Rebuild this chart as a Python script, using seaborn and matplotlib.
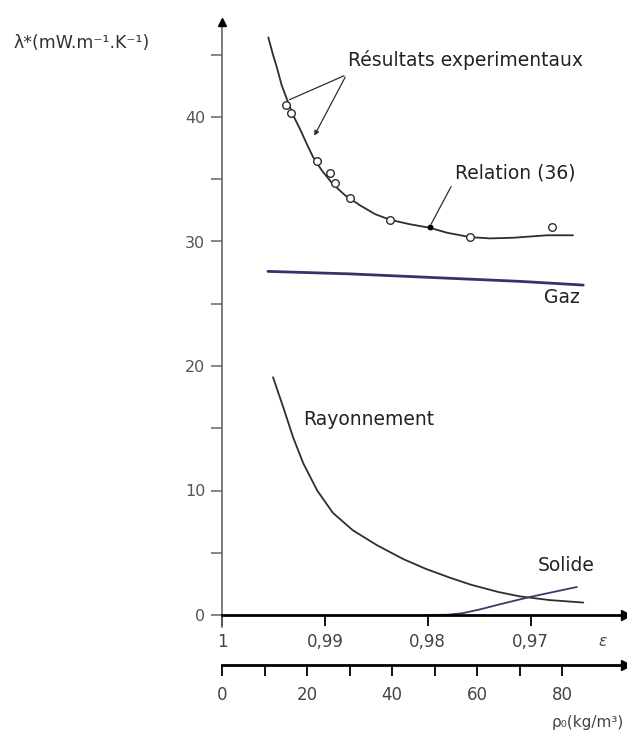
import numpy as np
import pandas as pd
import matplotlib
matplotlib.use("Agg")
import matplotlib.pyplot as plt
import seaborn as sns

# curves (rho in kg/m3, lambda in mW/m/K)
rho_total = [10.9, 12.0, 12.9, 14.0, 15.3, 16.8, 18.4, 20.0, 21.4, 23.5, 26.1, 29.0,
             32.5, 36.0, 39.5, 44.0, 48.9, 53.0, 58.4, 63.0, 68.5, 76.5, 82.6]
lam_total = [46.4, 45.0, 44.0, 42.6, 41.4, 40.1, 39.0, 37.8, 36.8, 35.7, 34.6, 33.7,
             32.9, 32.2, 31.75, 31.4, 31.1, 30.7, 30.35, 30.25, 30.3, 30.5, 30.5]

rho_gaz = [10.8, 30.0, 50.0, 70.0, 85.0]
lam_gaz = [27.6, 27.4, 27.1, 26.8, 26.5]

rho_ray = [12.0, 14.4, 16.7, 19.1, 22.4, 26.1, 30.8, 36.5, 42.6, 48.0, 53.6,
           58.4, 65.0, 70.0, 77.0, 85.0]
lam_ray = [19.1, 16.7, 14.3, 12.2, 10.0, 8.2, 6.8, 5.6, 4.5, 3.7, 3.0,
           2.45, 1.85, 1.5, 1.2, 1.0]

rho_sol = [48.0, 53.0, 56.7, 60.7, 64.7, 68.5, 72.5, 78.0, 83.5]
lam_sol = [0.0, 0.02, 0.15, 0.45, 0.8, 1.12, 1.45, 1.85, 2.25]

rho_exp = [15.1, 16.2, 22.4, 25.4, 26.6, 30.1, 39.5, 58.4, 77.6]
lam_exp = [41.0, 40.3, 36.5, 35.5, 34.7, 33.5, 31.7, 30.4, 31.2]

rho_rel = [48.9]
lam_rel = [31.2]

eps_ticks = [1.0, 0.99, 0.98, 0.97]
eps_labels = ["1", "0,99", "0,98", "0,97"]
rho_solid = 2420.0  # eps = 1 - rho/rho_solid
rho_ticks = [0, 20, 40, 60, 80]
lam_ticks = [0, 10, 20, 30, 40]

sns.set_theme(style="white")
plt.rcParams['font.family'] = ['DejaVu Sans']

W, H = 627, 734
fig = plt.figure(figsize=(W / 100, H / 100), dpi=100)

# pixel layout: rho 0 at x=222, 4.25 px per unit; lambda 0 at y=615, 12.45 px per unit
x0, xs = 222.0, 4.25
y0, ys = 615.0, 12.45
xmax = (626 - x0) / xs
ymin, ymax = -1.0, (y0 - 22) / ys
ax = fig.add_axes([x0 / W, (H - (y0 - ymin * ys)) / H,
                   (626 - x0) / W, ((ymax - ymin) * ys) / H])
ax.set_xlim(0, xmax)
ax.set_ylim(ymin, ymax)
ax.patch.set_alpha(0)

dark = "#2e2e2e"
gaz_col = "#34346a"

def line(x, y, **kw):
    sns.lineplot(x=x, y=y, ax=ax, legend=False, estimator=None, **kw)

line(rho_total, lam_total, color=dark, lw=1.3)
line(rho_gaz, lam_gaz, color=gaz_col, lw=2.0)
line(rho_ray, lam_ray, color=dark, lw=1.3)
line(rho_sol, lam_sol, color="#3a3a70", lw=1.3)

sns.scatterplot(x=rho_exp, y=lam_exp, ax=ax, marker="o", s=30,
                facecolor="white", edgecolor=dark, linewidth=1.0, zorder=5)
sns.scatterplot(x=rho_rel, y=lam_rel, ax=ax, marker="o", s=18,
                color="black", linewidth=0, zorder=6)

# spines
for s in ["top", "right"]:
    ax.spines[s].set_visible(False)
ax.spines["left"].set_position(("data", 0))
ax.spines["left"].set_color("#666666")
ax.spines["left"].set_linewidth(1.2)
ax.spines["bottom"].set_position(("data", 0))
ax.spines["bottom"].set_color("black")
ax.spines["bottom"].set_linewidth(2.0)

ax.set_yticks(lam_ticks)
ax.set_yticklabels([str(v) for v in lam_ticks])
ax.set_yticks([5, 15, 25, 35, 45], minor=True)
ax.tick_params(axis="y", which="both", direction="out", length=8, width=1.1,
               color="#666666", left=True, labelsize=11.5, labelcolor="#555555", pad=4)

eps_pos = [(1 - e) * rho_solid for e in eps_ticks]
ax.set_xticks(eps_pos)
ax.set_xticklabels(eps_labels)
ax.tick_params(axis="x", which="major", direction="out", length=8, width=1.3,
               color="black", bottom=True, labelsize=12, labelcolor="#444444", pad=5)

# axis arrows
ax.plot([0], [ymax], marker="^", ms=6, color="black", clip_on=False, zorder=7)
ax.plot([1], [0], marker=">", ms=7, color="black", clip_on=False, zorder=7,
        transform=ax.get_yaxis_transform())
ax.text(603, H - 642, "ε", transform=None, fontsize=11, color="#444444",
        ha="center", va="center", style="italic")

# lower density axis
yb = 665.0
ax2 = fig.add_axes([x0 / W, (H - yb) / H, (626 - x0) / W, 0.001])
ax2.set_xlim(0, xmax)
ax2.patch.set_alpha(0)
for s in ["top", "right", "left"]:
    ax2.spines[s].set_visible(False)
ax2.spines["bottom"].set_color("black")
ax2.spines["bottom"].set_linewidth(2.0)
ax2.set_yticks([])
ax2.set_xticks(rho_ticks)
ax2.set_xticklabels([str(v) for v in rho_ticks])
ax2.set_xticks([10, 30, 50, 70], minor=True)
ax2.tick_params(axis="x", which="both", direction="out", length=8, width=1.3,
                color="black", bottom=True, labelsize=12, labelcolor="#444444", pad=7)
ax2.plot([1], [0], marker=">", ms=7, color="black", clip_on=False,
         transform=ax2.get_yaxis_transform())
fig.text(588 / W, 1 - 722 / H, "ρ₀(kg/m³)", fontsize=11, color="#444444",
         ha="center", va="center")

# y label
fig.text(14 / W, 1 - 43 / H, "λ*(mW.m⁻¹.K⁻¹)", fontsize=12.5, color="#333333",
         ha="left", va="center")

# annotations
tk = dict(fontsize=13.5, color="#222222")
ax.text(29.6, 44.6, "Résultats experimentaux", ha="left", va="center", **tk)
ax.annotate("", xy=(15.3, 41.3), xytext=(29.3, 43.4),
            arrowprops=dict(arrowstyle="-", lw=0.9, color=dark))
ax.annotate("", xy=(21.4, 38.3), xytext=(29.3, 43.4),
            arrowprops=dict(arrowstyle="-|>", lw=0.9, color=dark, mutation_scale=7))
ax.text(54.8, 35.5, "Relation (36)", ha="left", va="center", **tk)
ax.annotate("", xy=(48.9, 31.2), xytext=(54.2, 34.6),
            arrowprops=dict(arrowstyle="-", lw=0.9, color=dark))
ax.text(84.2, 25.5, "Gaz", ha="right", va="center", **tk)
ax.text(19.1, 15.7, "Rayonnement", ha="left", va="center", **tk)
ax.text(74.4, 4.0, "Solide", ha="left", va="center", **tk)

fig.savefig("out.png", dpi=100)
